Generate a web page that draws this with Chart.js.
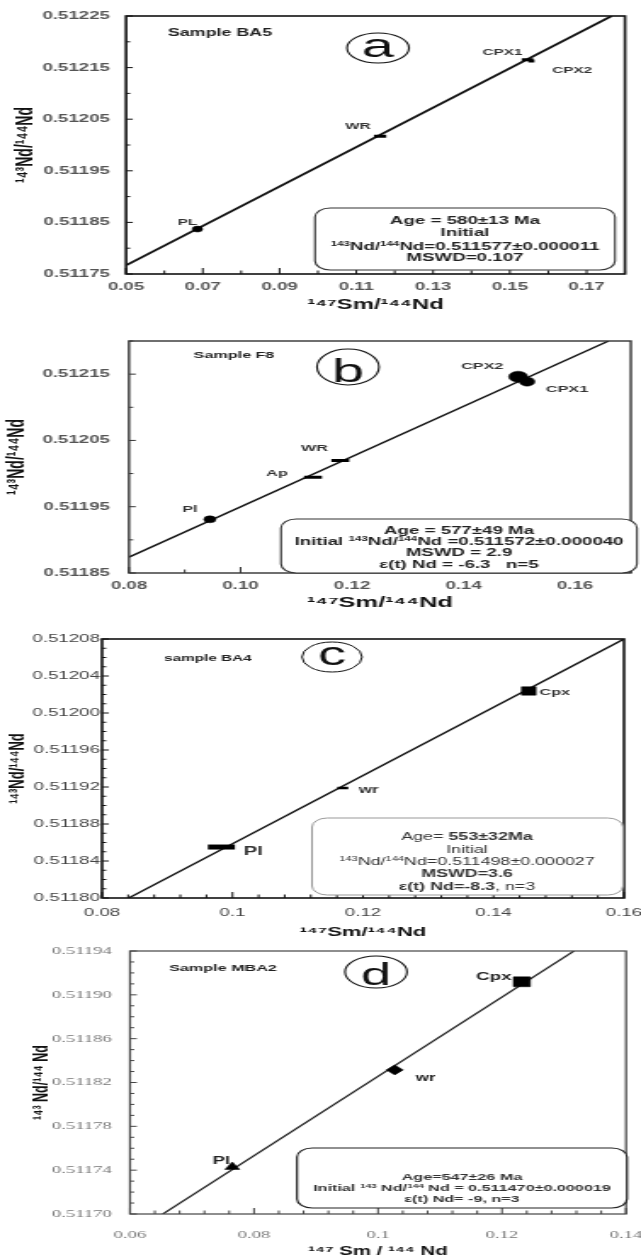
<!DOCTYPE html>
<html><head><meta charset="utf-8">
<script src="https://cdn.jsdelivr.net/npm/chart.js@4.4.1/dist/chart.umd.min.js"></script>
<style>
html,body{margin:0;padding:0;background:#fff;}
body{position:relative;width:641px;height:1259px;overflow:hidden;}
canvas{position:absolute;left:0;}
</style></head><body>
<canvas id="ca"></canvas><canvas id="cb"></canvas><canvas id="cc"></canvas><canvas id="cd"></canvas>
<script>
// ===== DATA =====
// Panel a — Sample BA5
const aNames = ['PL','WR','CPX1','CPX2'];
const aSm = [0.0686, 0.1162, 0.1546, 0.1556];
const aNd = [0.511837, 0.512017, 0.512165, 0.512163];
const aSmErr = [0, 0.0016, 0.0015, 0.0008];
const aIsoSm = [0.05, 0.1765];
const aIsoNd = [0.511767, 0.51225];
const aXRange = [0.05, 0.18];
const aYRange = [0.51175, 0.51225];
const aXTicks = ['0.05','0.07','0.09','0.11','0.13','0.15','0.17'];
const aYTicks = ['0.51175','0.51185','0.51195','0.51205','0.51215','0.51225'];

// Panel b — Sample F8
const bNames = ['Pl','Ap','WR','CPX2','CPX1'];
const bSm = [0.0945, 0.1130, 0.1179, 0.1498, 0.1514];
const bNd = [0.511931, 0.5119944, 0.5120199, 0.5121462, 0.5121387];
const bSmErr = [0, 0.0016, 0.0016, 0, 0];
const bIsoSm = [0.08, 0.166];
const bIsoNd = [0.511874, 0.5122];
const bXRange = [0.08, 0.17];
const bYRange = [0.51185, 0.5122];
const bXTicks = ['0.08','0.10','0.12','0.14','0.16'];
const bYTicks = ['0.51185','0.51195','0.51205','0.51215'];

// Panel c — sample BA4
const cNames = ['Pl','wr','Cpx'];
const cSm = [0.0983, 0.1169, 0.1454];
const cNd = [0.5118551, 0.5119189, 0.5120238];
const cSmErr = [0.00207, 0.00084, 0];
const cIsoSm = [0.0841, 0.16];
const cIsoNd = [0.5118, 0.51208];
const cXRange = [0.08, 0.16];
const cYRange = [0.5118, 0.51208];
const cXTicks = ['0.08','0.1','0.12','0.14','0.16'];
const cYTicks = ['0.51180','0.51184','0.51188','0.51192','0.51196','0.51200','0.51204','0.51208'];

// Panel d — Sample MBA2
const dNames = ['Pl','wr','Cpx'];
const dSm = [0.0765, 0.1027, 0.1232];
const dNd = [0.5117429, 0.5118315, 0.5119119];
const dSmErr = [0, 0, 0];
const dIsoSm = [0.0653, 0.1316];
const dIsoNd = [0.5117, 0.51194];
const dXRange = [0.06, 0.14];
const dYRange = [0.5117, 0.51194];
const dXTicks = ['0.06','0.08','0.1','0.12','0.14'];
const dYTicks = ['0.51170','0.51174','0.51178','0.51182','0.51186','0.51190','0.51194'];

// ===== TEXT =====
const aInfo = [[['Age = 580±13 Ma','b']],[['Initial','b']],[['143','sb'],['Nd/','b'],['144','sb'],['Nd=0.511577±0.000011','b']],[['MSWD=0.107','b']]];
const bInfo = [[['Age = 577±49 Ma','b']],[['Initial ','b'],['143','sb'],['Nd/','b'],['144','sb'],['Nd =0.511572±0.000040','b']],[['MSWD = 2.9','b']],[['ε(t) Nd = -6.3   n=5','b']]];
const cInfo = [[['Age= ','n'],['553±32Ma','b']],[['Initial','n']],[['143','sn'],['Nd/','n'],['144','sn'],['Nd=0.511498±0.000027','n']],[['MSWD=3.6','b']],[['ε(t) Nd=-8.3','b'],[', n=3','n']]];
const dInfo = [[['Age=547±26 Ma','b']],[['Initial ','b'],['143','sb'],[' Nd/','b'],['144','sb'],[' Nd = 0.511470±0.000019','b']],[['ε(t) Nd= -9, n=3','b']]];

const DATA = {
  ca:{names:aNames,x:aSm,y:aNd,err:aSmErr,isoX:aIsoSm,isoY:aIsoNd,xr:aXRange,yr:aYRange,xTicks:aXTicks,yTicks:aYTicks,info:aInfo,sample:'Sample BA5',letter:'a',xTitle:'¹⁴⁷Sm/¹⁴⁴Nd',yTitle:'¹⁴³Nd/¹⁴⁴Nd'},
  cb:{names:bNames,x:bSm,y:bNd,err:bSmErr,isoX:bIsoSm,isoY:bIsoNd,xr:bXRange,yr:bYRange,xTicks:bXTicks,yTicks:bYTicks,info:bInfo,sample:'Sample F8',letter:'b',xTitle:'¹⁴⁷Sm/¹⁴⁴Nd',yTitle:'¹⁴³Nd/¹⁴⁴Nd'},
  cc:{names:cNames,x:cSm,y:cNd,err:cSmErr,isoX:cIsoSm,isoY:cIsoNd,xr:cXRange,yr:cYRange,xTicks:cXTicks,yTicks:cYTicks,info:cInfo,sample:'sample BA4',letter:'c',xTitle:'¹⁴⁷Sm/¹⁴⁴Nd',yTitle:'¹⁴³Nd/¹⁴⁴Nd'},
  cd:{names:dNames,x:dSm,y:dNd,err:dSmErr,isoX:dIsoSm,isoY:dIsoNd,xr:dXRange,yr:dYRange,xTicks:dXTicks,yTicks:dYTicks,info:dInfo,sample:'Sample MBA2',letter:'d',xTitle:'¹⁴⁷ Sm / ¹⁴⁴ Nd',yTitle:'¹⁴³ Nd/¹⁴⁴ Nd'}
};

// ===== STYLE (page coordinates) =====
const SANS = '"Liberation Sans", Arial, sans-serif';
const SERIF = '"Liberation Serif", "Times New Roman", serif';
const STY = {
  ca:{top:0,h:315,plot:[126,625,16,274],frame:{color:'#111',width:1.6},iso:{color:'#111',width:1.8},
    tickFont:{family:SANS,size:11,weight:'bold'},tickColor:'#555',yLabRight:110,xLabCY:287,
    xTitleFont:{family:SANS,size:14,weight:'bold'},xTitleCY:305,yTitleFont:{family:SANS,size:14,weight:'bold'},yTitleCX:25,
    xMinor:0.01,yMinor:0.00005,xMaj:6,xMin:3.5,yMaj:4,yMin:2.5,
    ptStyle:['circle','circle','circle','circle'],ptR:[3,0,0,0],errW:[0,3,3,3],
    lblOff:[[-10,-7],[-22,-10],[-25,-7],[41,10]],lblFont:['bold 9px '+SANS,'bold 9px '+SANS,'bold 9px '+SANS,'bold 9px '+SANS],lblColor:'#333',
    sample:{cx:220,cy:33,font:'bold 10.5px '+SANS,color:'#222'},
    circ:{cx:378,cy:48,rx:31,ry:15,font:'34px '+SANS,base:57,lw:1.1},
    box:{x0:315,x1:615,y0:208,y1:270,r:9,stroke:'#333',lw:1.1,cx:465,ys:[220,232,246,257],size:11,color:'#222'}},
  cb:{top:315,h:310,plot:[129,639,341,573],frame:{color:'#333',width:1.4},iso:{color:'#111',width:1.4},
    tickFont:{family:SANS,size:11,weight:'bold'},tickColor:'#555',yLabRight:110,xLabCY:586,
    xTitleFont:{family:SANS,size:15,weight:'bold'},xTitleCY:603,yTitleFont:{family:SANS,size:14,weight:'bold'},yTitleCX:18,
    xMinor:0.01,yMinor:0.00005,xMaj:6,xMin:3.5,yMaj:4,yMin:2.5,
    ptStyle:['circle','circle','circle','circle','circle'],ptR:[3.5,0,0,5.5,4.5],errW:[0,3,3,0,0],
    lblOff:[[-20,-10],[-36,-4],[-26,-12],[-36,-10],[40,8]],lblFont:Array(5).fill('bold 9.5px '+SANS),lblColor:'#333',
    sample:{cx:234,cy:355,font:'bold 9.5px '+SANS,color:'#222'},
    circ:{cx:348,cy:367,rx:31,ry:18,font:'34px '+SANS,base:382,lw:1.1},
    box:{x0:281,x1:637,y0:519,y1:573,r:9,stroke:'#333',lw:1.1,cx:459,ys:[530,541,552,564],size:11,color:'#222'}},
  cc:{top:625,h:315,plot:[102,624,639,898],frame:{color:'#111',width:1.6},iso:{color:'#111',width:1.4},
    tickFont:{family:SANS,size:11,weight:'normal'},tickColor:'#444',yLabRight:100,xLabCY:913,
    xTitleFont:{family:SANS,size:13,weight:'bold'},xTitleCY:932,yTitleFont:{family:SANS,size:13,weight:'bold'},yTitleCX:18,
    xMinor:0.004,yMinor:0.00001,xMaj:6,xMin:3.5,yMaj:4,yMin:2.5,
    ptStyle:['circle','circle','rect'],ptR:[0,0,6],errW:[5,2.5,0],
    lblOff:[[32,5],[26,2],[26,1]],lblFont:['bold 12px '+SANS,'bold 10px '+SANS,'bold 9.5px '+SANS],lblColor:'#333',
    sample:{cx:208,cy:659,font:'bold 9px '+SANS,color:'#222'},
    circ:{cx:332,cy:657,rx:30,ry:15,font:'33px '+SANS,base:665,lw:1.0},
    box:{x0:312,x1:623,y0:818,y1:895,r:9,stroke:'#999',lw:1.0,cx:467,ys:[836,849,861,873,886],size:10.5,color:'#333'}},
  cd:{top:940,h:319,plot:[130,626,951,1214],frame:{color:'#444',width:1.2},iso:{color:'#222',width:1.2},
    tickFont:{family:SERIF,size:11,weight:'normal'},tickColor:'#777',yLabRight:112,xLabCY:1235,
    xTitleFont:{family:SANS,size:12,weight:'bold'},xTitleCY:1252,yTitleFont:{family:SANS,size:12.5,weight:'bold'},yTitleCX:41,
    xMinor:0.004,yMinor:0.00001,xMaj:6,xMin:3.5,yMaj:4,yMin:2.5,
    ptStyle:['triangle','rectRot','rect'],ptR:[5,5,7],errW:[0,0,0],
    lblOff:[[-11,-6],[31,8],[-28,-5]],lblFont:['bold 11px '+SANS,'bold 10px '+SANS,'bold 11px '+SANS],lblColor:'#222',
    sample:{cx:223,cy:968,font:'bold 9.5px '+SANS,color:'#222'},
    circ:{cx:376,cy:972,rx:31,ry:16,font:'32px '+SANS,base:985,lw:1.1},
    box:{x0:297,x1:627,y0:1148,y1:1208,r:9,stroke:'#222',lw:1.2,cx:462,ys:[1177,1188,1199],size:9.5,color:'#333'}}
};

const W = 377, SX = 641 / W;
const ix = p => p / SX;

function richLine(ctx, segs, cx, cy, size, family, color) {
  const f = s => (s[1].endsWith('b') ? 'bold ' : '') + (s[1].startsWith('s') ? size * 0.62 : size) + 'px ' + family;
  let w = 0;
  segs.forEach(s => { ctx.font = f(s); w += ctx.measureText(s[0]).width; });
  let x = cx - w / 2;
  const base = cy + size * 0.36;
  ctx.textAlign = 'left'; ctx.textBaseline = 'alphabetic'; ctx.fillStyle = color;
  segs.forEach(s => {
    ctx.font = f(s);
    ctx.fillText(s[0], x, s[1].startsWith('s') ? base - size * 0.4 : base);
    x += ctx.measureText(s[0]).width;
  });
}

const decor = {
  id: 'decor',
  afterDatasetsDraw(chart) {
    const key = chart.canvas.id, st = STY[key], d = DATA[key];
    const ctx = chart.ctx, ca = chart.chartArea, xs = chart.scales.x, ys = chart.scales.y;
    const T = st.top;
    ctx.save();
    // inward ticks
    ctx.strokeStyle = st.frame.color; ctx.lineWidth = 1;
    ctx.beginPath();
    let n = Math.round((xs.max - xs.min) / st.xMinor);
    for (let i = 0; i <= n; i++) {
      const v = xs.min + i * st.xMinor, p = xs.getPixelForValue(v);
      const maj = d.xTicks.some(t => Math.abs(parseFloat(t) - v) < st.xMinor * 0.05);
      ctx.moveTo(p, ca.bottom); ctx.lineTo(p, ca.bottom - (maj ? st.xMaj : st.xMin));
    }
    n = Math.round((ys.max - ys.min) / st.yMinor);
    for (let i = 0; i <= n; i++) {
      const v = ys.min + i * st.yMinor, p = ys.getPixelForValue(v);
      const maj = d.yTicks.some(t => Math.abs(parseFloat(t) - v) < st.yMinor * 0.05);
      ctx.moveTo(ca.left, p); ctx.lineTo(ca.left + (maj ? st.yMaj : st.yMin), p);
    }
    ctx.stroke();
    // frame
    ctx.lineWidth = st.frame.width;
    ctx.strokeRect(ca.left, ca.top, ca.right - ca.left, ca.bottom - ca.top);
    // point labels
    ctx.textAlign = 'center'; ctx.textBaseline = 'middle'; ctx.fillStyle = st.lblColor;
    d.names.forEach((nm, i) => {
      ctx.font = st.lblFont[i];
      ctx.fillText(nm, xs.getPixelForValue(d.x[i]) + ix(st.lblOff[i][0]), ys.getPixelForValue(d.y[i]) + st.lblOff[i][1]);
    });
    // sample name
    ctx.font = st.sample.font; ctx.fillStyle = st.sample.color;
    ctx.fillText(d.sample, ix(st.sample.cx), st.sample.cy - T);
    // panel letter in ellipse
    const c = st.circ;
    ctx.beginPath(); ctx.lineWidth = c.lw; ctx.strokeStyle = '#111';
    ctx.ellipse(ix(c.cx), c.cy - T, ix(c.rx), c.ry, 0, 0, Math.PI * 2); ctx.stroke();
    ctx.font = c.font; ctx.fillStyle = '#111'; ctx.textBaseline = 'alphabetic';
    ctx.fillText(d.letter, ix(c.cx), c.base - T);
    // info box
    const b = st.box;
    ctx.beginPath(); ctx.roundRect(ix(b.x0), b.y0 - T, ix(b.x1) - ix(b.x0), b.y1 - b.y0, b.r);
    ctx.fillStyle = '#fff'; ctx.fill(); ctx.lineWidth = b.lw; ctx.strokeStyle = b.stroke; ctx.stroke();
    d.info.forEach((ln, i) => richLine(ctx, ln, ix(b.cx), b.ys[i] - T, b.size, SANS, b.color));
    ctx.restore();
  }
};

function build(key) {
  const st = STY[key], d = DATA[key];
  const cv = document.getElementById(key);
  cv.width = W; cv.height = st.h;
  cv.style.width = '641px'; cv.style.height = st.h + 'px'; cv.style.top = st.top + 'px';
  const L = ix(st.plot[0]), R = ix(st.plot[1]), Tp = st.plot[2] - st.top, B = st.plot[3] - st.top;
  const ds = [];
  ds.push({ data: d.x.map((x, i) => ({x, y: d.y[i]})), showLine: false, pointStyle: st.ptStyle,
    pointRadius: st.ptR, pointHoverRadius: st.ptR, pointBackgroundColor: '#000', pointBorderColor: '#000', pointBorderWidth: 0.5 });
  d.x.forEach((x, i) => {
    if (d.err[i] > 0) ds.push({ data: [{x: x - d.err[i], y: d.y[i]}, {x: x + d.err[i], y: d.y[i]}], showLine: true,
      borderColor: '#000', borderWidth: st.errW[i], pointRadius: 0, borderCapStyle: 'butt' });
  });
  ds.push({ data: d.isoX.map((x, i) => ({x, y: d.isoY[i]})), showLine: true, borderColor: st.iso.color,
    borderWidth: st.iso.width, pointRadius: 0 });
  const xlh = st.tickFont.size * 1.2;
  new Chart(cv, {
    type: 'scatter',
    data: { datasets: ds },
    options: {
      responsive: false, animation: false, devicePixelRatio: 1, events: [],
      layout: { padding: { left: 0, right: W - R, top: Tp, bottom: 0 } },
      plugins: { legend: { display: false }, tooltip: { enabled: false } },
      scales: {
        x: { type: 'linear', min: d.xr[0], max: d.xr[1], bounds: 'data',
          afterBuildTicks: s => { s.ticks = d.xTicks.map(t => ({value: parseFloat(t)})); },
          afterFit: s => { s.height = st.h - B; s.paddingLeft = 0; s.paddingRight = 0; },
          ticks: { autoSkip: false, maxRotation: 0, minRotation: 0, padding: (st.xLabCY - st.plot[3]) - xlh / 2,
            font: st.tickFont, color: st.tickColor, callback: (v, i) => d.xTicks[i] },
          grid: { display: false, drawTicks: false }, border: { display: false },
          title: { display: true, text: d.xTitle, font: st.xTitleFont, color: '#111',
            padding: { top: 0, bottom: Math.max(0, (st.top + st.h - st.xTitleCY) - st.xTitleFont.size * 0.6) } } },
        y: { type: 'linear', min: d.yr[0], max: d.yr[1], bounds: 'data',
          afterBuildTicks: s => { s.ticks = d.yTicks.map(t => ({value: parseFloat(t)})); },
          afterFit: s => { s.width = L; s.paddingTop = 0; s.paddingBottom = 0; },
          ticks: { autoSkip: false, padding: ix(st.plot[0] - st.yLabRight), font: st.tickFont, color: st.tickColor,
            callback: (v, i) => d.yTicks[i] },
          grid: { display: false, drawTicks: false }, border: { display: false },
          title: { display: true, text: d.yTitle, font: st.yTitleFont, color: '#111',
            padding: { top: Math.max(0, ix(st.yTitleCX) - st.yTitleFont.size * 0.6), bottom: 0 } } }
      }
    },
    plugins: [decor]
  });
}
['ca', 'cb', 'cc', 'cd'].forEach(build);
</script>
</body></html>
